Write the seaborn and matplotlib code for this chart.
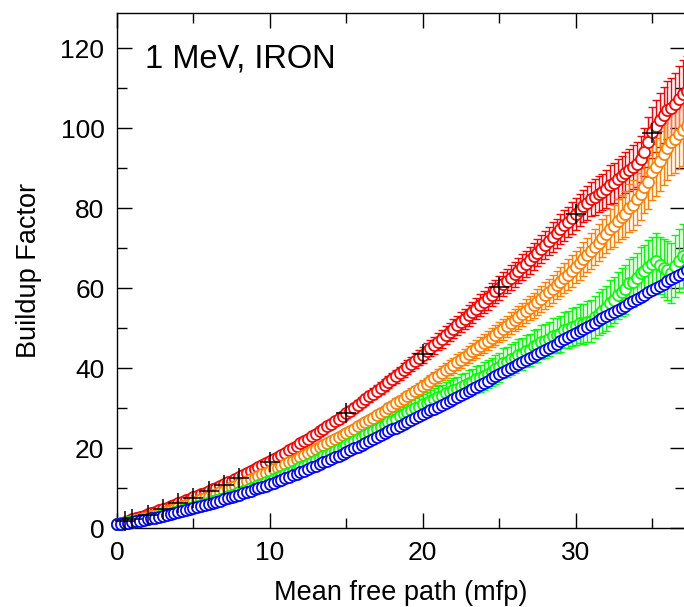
import numpy as np
import seaborn as sns
import matplotlib.pyplot as plt
from matplotlib.ticker import MultipleLocator

# sampling grid of the transport results (0.25 mfp steps)
mfp = np.arange(0, 37.75, 0.25)

# buildup factor, one row per mfp unit (k, k+.25, k+.5, k+.75)
red_b = [
    1.0, 1.3, 1.65, 1.95,
    2.3, 2.6, 2.9, 3.2,
    3.5, 3.8, 4.15, 4.45,
    4.8, 5.15, 5.5, 5.85,
    6.2, 6.55, 6.95, 7.3,
    7.7, 8.1, 8.5, 8.9,
    9.3, 9.7, 10.15, 10.55,
    11.0, 11.45, 11.9, 12.35,
    12.8, 13.25, 13.75, 14.2,
    14.7, 15.2, 15.7, 16.2,
    16.7, 17.25, 17.8, 18.35,
    18.9, 19.45, 20.05, 20.6,
    21.2, 21.8, 22.4, 23.0,
    23.6, 24.2, 24.85, 25.45,
    26.1, 26.75, 27.4, 28.05,
    28.7, 29.4, 30.1, 30.8,
    31.5, 32.2, 32.95, 33.65,
    34.4, 35.1, 35.85, 36.55,
    37.3, 38.05, 38.8, 39.55,
    40.3, 41.05, 41.85, 42.6,
    43.4, 44.2, 45.0, 45.8,
    46.6, 47.4, 48.25, 49.05,
    49.9, 50.7, 51.55, 52.35,
    53.2, 54.05, 54.9, 55.75,
    56.6, 57.45, 58.35, 59.2,
    60.1, 60.95, 61.8, 62.65,
    63.5, 64.4, 65.2, 66.1,
    67.0, 67.95, 68.9, 69.85,
    70.8, 71.8, 72.8, 73.7,
    74.7, 75.7, 76.6, 77.6,
    78.6, 79.5, 80.6, 81.3,
    82.3, 82.8, 83.6, 84.1,
    84.8, 85.9, 86.3, 87.4,
    88.0, 88.9, 89.6, 90.4,
    91.0, 92.3, 94.0, 96.5,
    99.0, 100.6, 102.0, 103.2,
    104.5, 105.1, 106.0, 107.4,
    108.5, 109.3, 110.2,
]
red_err = [
    0.0, 0.02, 0.03, 0.04,
    0.05, 0.06, 0.07, 0.08,
    0.09, 0.1, 0.11, 0.12,
    0.13, 0.14, 0.15, 0.16,
    0.17, 0.18, 0.19, 0.2,
    0.21, 0.22, 0.23, 0.24,
    0.26, 0.28, 0.3, 0.32,
    0.34, 0.36, 0.38, 0.4,
    0.42, 0.44, 0.46, 0.48,
    0.5, 0.52, 0.54, 0.56,
    0.58, 0.6, 0.62, 0.64,
    0.66, 0.68, 0.7, 0.72,
    0.74, 0.76, 0.78, 0.8,
    0.83, 0.86, 0.89, 0.92,
    0.95, 0.98, 1.01, 1.04,
    1.07, 1.11, 1.15, 1.19,
    1.23, 1.27, 1.31, 1.35,
    1.39, 1.43, 1.47, 1.51,
    1.55, 1.6, 1.65, 1.7,
    1.75, 1.8, 1.85, 1.9,
    1.95, 2.0, 2.05, 2.1,
    2.15, 2.2, 2.25, 2.3,
    2.35, 2.4, 2.45, 2.5,
    2.55, 2.6, 2.65, 2.7,
    2.75, 2.8, 2.85, 2.9,
    2.95, 3.0, 3.05, 3.1,
    3.15, 3.2, 3.25, 3.3,
    3.35, 3.4, 3.45, 3.5,
    3.55, 3.6, 3.65, 3.7,
    3.75, 3.8, 3.85, 3.9,
    3.95, 4.0, 4.1, 4.2,
    4.3, 4.4, 4.5, 4.6,
    4.7, 4.8, 4.9, 5.0,
    5.1, 5.2, 5.35, 5.5,
    5.65, 5.8, 6.0, 6.2,
    6.4, 6.6, 6.8, 7.0,
    7.3, 7.6, 7.9, 8.2,
    8.5, 8.8, 9.1,
]
orange_b = [
    1.0, 1.2, 1.4, 1.6,
    1.85, 2.1, 2.35, 2.6,
    2.85, 3.1, 3.4, 3.65,
    3.95, 4.25, 4.6, 4.9,
    5.2, 5.5, 5.85, 6.15,
    6.5, 6.85, 7.2, 7.55,
    7.9, 8.3, 8.65, 9.05,
    9.4, 9.8, 10.2, 10.6,
    11.0, 11.4, 11.8, 12.2,
    12.6, 13.05, 13.45, 13.9,
    14.3, 14.75, 15.15, 15.6,
    16.0, 16.45, 16.9, 17.35,
    17.8, 18.3, 18.75, 19.25,
    19.7, 20.2, 20.7, 21.2,
    21.7, 22.2, 22.75, 23.25,
    23.8, 24.35, 24.9, 25.45,
    26.0, 26.55, 27.1, 27.65,
    28.2, 28.8, 29.4, 30.0,
    30.6, 31.2, 31.8, 32.4,
    33.0, 33.6, 34.25, 34.85,
    35.5, 36.15, 36.8, 37.45,
    38.1, 38.8, 39.45, 40.15,
    40.8, 41.5, 42.15, 42.85,
    43.5, 44.2, 44.85, 45.55,
    46.2, 46.9, 47.6, 48.3,
    49.0, 49.75, 50.5, 51.25,
    52.0, 52.75, 53.5, 54.25,
    55.0, 55.8, 56.6, 57.4,
    58.2, 59.05, 59.9, 60.75,
    61.6, 62.5, 63.4, 64.3,
    65.2, 66.2, 67.3, 68.3,
    69.3, 70.4, 71.4, 72.5,
    73.5, 74.8, 75.6, 76.9,
    77.8, 78.6, 80.1, 80.8,
    82.3, 83.5, 85.4, 86.6,
    89.0, 90.2, 91.9, 93.6,
    95.0, 96.6, 97.3, 98.6,
    99.5, 100.6, 101.5,
]
orange_err = [
    0.0, 0.01, 0.02, 0.03,
    0.04, 0.05, 0.06, 0.07,
    0.08, 0.09, 0.1, 0.11,
    0.12, 0.13, 0.14, 0.15,
    0.16, 0.17, 0.18, 0.19,
    0.2, 0.21, 0.22, 0.23,
    0.25, 0.26, 0.28, 0.29,
    0.3, 0.32, 0.33, 0.35,
    0.36, 0.38, 0.39, 0.41,
    0.42, 0.44, 0.46, 0.48,
    0.5, 0.52, 0.54, 0.56,
    0.58, 0.6, 0.62, 0.64,
    0.66, 0.68, 0.7, 0.72,
    0.74, 0.76, 0.78, 0.8,
    0.82, 0.84, 0.86, 0.88,
    0.9, 0.93, 0.96, 0.99,
    1.02, 1.05, 1.08, 1.11,
    1.14, 1.17, 1.2, 1.23,
    1.26, 1.29, 1.32, 1.35,
    1.38, 1.41, 1.44, 1.47,
    1.5, 1.55, 1.6, 1.65,
    1.7, 1.75, 1.8, 1.85,
    1.9, 1.95, 2.0, 2.05,
    2.1, 2.15, 2.2, 2.25,
    2.3, 2.35, 2.4, 2.45,
    2.5, 2.57, 2.63, 2.7,
    2.77, 2.83, 2.9, 2.97,
    3.03, 3.1, 3.17, 3.23,
    3.3, 3.38, 3.47, 3.55,
    3.63, 3.72, 3.8, 3.9,
    4.0, 4.1, 4.2, 4.3,
    4.4, 4.5, 4.6, 4.7,
    4.8, 5.0, 5.2, 5.4,
    5.6, 5.8, 6.0, 6.2,
    6.4, 6.55, 6.7, 6.85,
    7.0, 7.25, 7.5, 7.75,
    8.0, 8.25, 8.5, 8.75,
    9.0, 9.25, 9.5,
]
green_b = [
    1.0, 1.16, 1.33, 1.49,
    1.65, 1.84, 2.03, 2.21,
    2.4, 2.61, 2.83, 3.04,
    3.25, 3.49, 3.73, 3.96,
    4.2, 4.48, 4.75, 5.03,
    5.3, 5.59, 5.88, 6.16,
    6.45, 6.75, 7.05, 7.35,
    7.65, 7.98, 8.3, 8.63,
    8.95, 9.31, 9.68, 10.04,
    10.4, 10.78, 11.15, 11.53,
    11.9, 12.3, 12.7, 13.1,
    13.5, 13.93, 14.35, 14.78,
    15.2, 15.65, 16.1, 16.55,
    17.0, 17.48, 17.95, 18.43,
    18.9, 19.4, 19.9, 20.4,
    20.9, 21.3, 21.9, 22.3,
    22.8, 23.4, 23.8, 24.3,
    24.8, 25.4, 25.8, 26.5,
    26.9, 27.3, 28.0, 28.6,
    29.0, 29.6, 30.1, 30.4,
    31.0, 31.3, 31.9, 32.3,
    32.8, 33.0, 33.7, 34.1,
    34.5, 34.8, 35.4, 35.7,
    36.3, 36.5, 37.2, 37.5,
    38.0, 38.6, 39.0, 39.8,
    40.2, 41.3, 41.6, 42.2,
    42.6, 43.4, 43.6, 44.2,
    44.6, 45.5, 45.7, 46.5,
    46.9, 47.3, 48.1, 48.2,
    48.6, 49.5, 49.7, 50.4,
    50.5, 51.2, 51.0, 51.6,
    51.8, 52.9, 53.6, 54.2,
    55.0, 56.4, 57.0, 58.2,
    59.0, 59.8, 61.2, 61.6,
    62.5, 63.8, 64.2, 65.4,
    66.0, 66.8, 65.7, 65.0,
    64.5, 63.8, 65.6, 66.9,
    68.0, 67.5, 69.0,
]
green_err = [
    0.0, 0.01, 0.02, 0.03,
    0.04, 0.05, 0.06, 0.07,
    0.08, 0.09, 0.1, 0.11,
    0.12, 0.13, 0.14, 0.15,
    0.16, 0.18, 0.2, 0.22,
    0.24, 0.26, 0.28, 0.3,
    0.32, 0.34, 0.36, 0.38,
    0.4, 0.43, 0.46, 0.49,
    0.52, 0.55, 0.58, 0.61,
    0.64, 0.67, 0.7, 0.73,
    0.76, 0.8, 0.84, 0.88,
    0.92, 0.96, 1.0, 1.04,
    1.08, 1.12, 1.16, 1.2,
    1.25, 1.3, 1.35, 1.4,
    1.45, 1.5, 1.55, 1.6,
    1.65, 1.7, 1.75, 1.8,
    1.85, 1.9, 1.95, 2.0,
    2.05, 2.1, 2.15, 2.2,
    2.25, 2.3, 2.35, 2.4,
    2.45, 2.5, 2.55, 2.6,
    2.65, 2.7, 2.75, 2.8,
    2.85, 2.9, 2.95, 3.0,
    3.05, 3.1, 3.15, 3.2,
    3.25, 3.3, 3.35, 3.4,
    3.45, 3.5, 3.55, 3.6,
    3.65, 3.7, 3.75, 3.8,
    3.85, 3.9, 3.95, 4.0,
    4.05, 4.1, 4.15, 4.2,
    4.25, 4.3, 4.35, 4.4,
    4.5, 4.55, 4.6, 4.7,
    4.8, 4.9, 5.0, 5.1,
    5.2, 5.3, 5.4, 5.5,
    5.6, 5.7, 5.8, 5.9,
    6.0, 6.1, 6.2, 6.3,
    6.4, 6.5, 6.6, 6.7,
    6.8, 6.95, 7.1, 7.25,
    7.4, 7.55, 7.7, 7.85,
    8.0, 8.15, 8.3,
]
blue_b = [
    1.0, 1.15, 1.3, 1.45,
    1.6, 1.78, 1.95, 2.13,
    2.3, 2.5, 2.7, 2.9,
    3.1, 3.33, 3.55, 3.78,
    4.0, 4.25, 4.5, 4.75,
    5.0, 5.28, 5.55, 5.83,
    6.1, 6.38, 6.65, 6.93,
    7.2, 7.5, 7.8, 8.1,
    8.4, 8.73, 9.05, 9.38,
    9.7, 10.03, 10.35, 10.68,
    11.0, 11.38, 11.75, 12.13,
    12.5, 12.88, 13.25, 13.63,
    14.0, 14.4, 14.8, 15.2,
    15.6, 16.03, 16.45, 16.88,
    17.3, 17.73, 18.15, 18.58,
    19.0, 19.48, 19.95, 20.43,
    20.9, 21.38, 21.85, 22.33,
    22.8, 23.28, 23.75, 24.23,
    24.7, 25.18, 25.65, 26.13,
    26.6, 27.08, 27.55, 28.03,
    28.5, 28.98, 29.45, 29.93,
    30.4, 30.9, 31.4, 31.9,
    32.4, 32.9, 33.4, 33.9,
    34.4, 34.9, 35.4, 35.9,
    36.4, 36.93, 37.45, 37.98,
    38.5, 39.0, 39.5, 40.0,
    40.5, 41.0, 41.5, 42.0,
    42.5, 43.03, 43.55, 44.08,
    44.6, 45.13, 45.65, 46.18,
    46.7, 47.23, 47.75, 48.28,
    48.8, 49.33, 49.85, 50.38,
    50.9, 51.43, 51.95, 52.48,
    53.0, 53.53, 54.05, 54.58,
    55.1, 55.65, 56.2, 56.75,
    57.3, 57.85, 58.4, 58.95,
    59.5, 60.05, 60.6, 61.15,
    61.7, 62.25, 62.8, 63.35,
    63.9, 64.45, 65.0,
]

# reference (ANS) buildup factors, black crosses
ref_mfp = [0.5, 1, 2, 3, 4, 5, 6, 7, 8, 10, 15, 20, 25, 30, 35]
ref_b = [1.8, 2.4, 3.4, 4.7, 6.2, 7.6, 9.2, 10.9, 12.6, 16.6, 28.7, 43.5, 60.3, 78.6, 98.7]

series = [
    (red_b, red_err, "#ff0000"),
    (orange_b, orange_err, "#ff8000"),
    (green_b, green_err, "#00ff00"),
    (blue_b, None, "#0000ff"),
]

sns.set_style("ticks")
plt.rcParams['font.family'] = ['Liberation Sans', 'DejaVu Sans']
plt.rcParams['text.color'] = 'black'
plt.rcParams['axes.labelcolor'] = 'black'

fig = plt.figure(figsize=(6.84, 6.07), dpi=100)
ax = fig.add_axes([117 / 684, 78.7 / 607, 568 / 684, 515 / 607])

for b, err, c in series:
    if err is not None:
        ax.errorbar(mfp, b, yerr=err, fmt='none', ecolor=c, elinewidth=1.0,
                    capsize=3, capthick=1.0, clip_on=False)
    sns.scatterplot(x=mfp, y=b, ax=ax, marker='o', s=64, color='white',
                    edgecolor=c, linewidth=1.25, clip_on=False, zorder=3)

sns.scatterplot(x=ref_mfp, y=ref_b, ax=ax, marker='+', s=220, color='black',
                linewidth=1.1, zorder=4, clip_on=False)

ax.set_xlim(0, 37.15)
ax.set_ylim(0, 128.75)
ax.xaxis.set_major_locator(MultipleLocator(10))
ax.xaxis.set_minor_locator(MultipleLocator(5))
ax.yaxis.set_major_locator(MultipleLocator(20))
ax.yaxis.set_minor_locator(MultipleLocator(10))
ax.tick_params(which='both', direction='in', top=True, right=True,
               width=1.0, colors='black', labelsize=19)
ax.tick_params(which='major', length=10.5, pad=9)
ax.tick_params(which='minor', length=7.2)
for s in ax.spines.values():
    s.set_linewidth(1.0)
    s.set_color('black')

ax.set_xlabel('Mean free path (mfp)', fontsize=19.5, labelpad=11)
ax.set_ylabel('Buildup Factor', fontsize=19.5, labelpad=13)
ax.text(0.049, 0.894, '1 MeV, IRON', transform=ax.transAxes,
        fontsize=23.5, va='baseline', ha='left')

fig.savefig('out.png', dpi=100)
